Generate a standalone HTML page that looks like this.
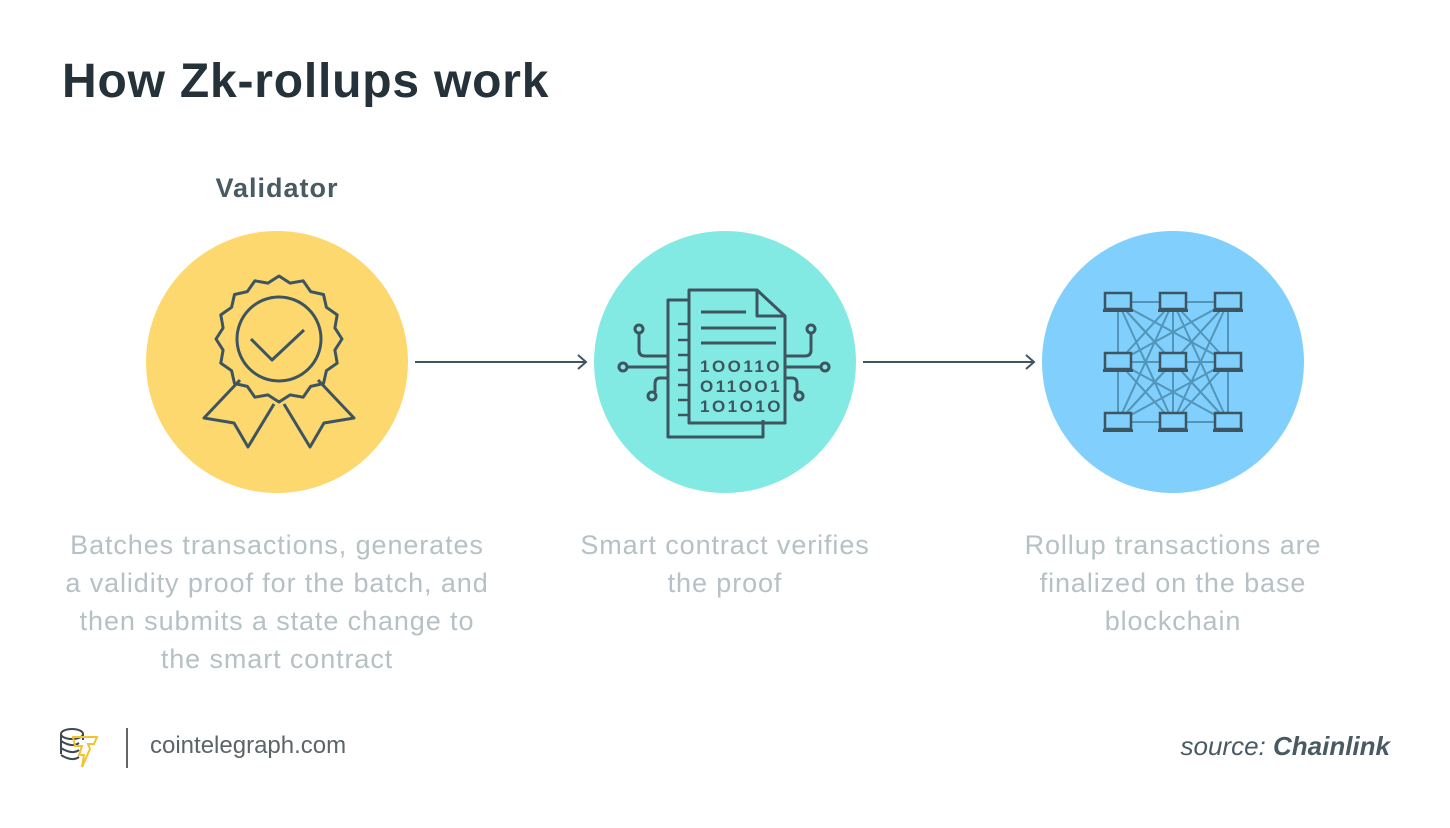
<!DOCTYPE html>
<html><head><meta charset="utf-8"><style>
body{margin:0;width:1450px;height:828px;background:#fff;font-family:"Liberation Sans",sans-serif;overflow:hidden;position:relative}
.t{position:absolute;white-space:nowrap}
.d{position:absolute;text-align:center;color:#b6c1c5;font-size:27px;letter-spacing:0.9px;line-height:38px;width:500px}
</style></head><body>
<div class="t" style="left:62px;top:54px;font-size:48px;letter-spacing:0.8px;font-weight:bold;color:#25323a">How Zk-rollups work</div>
<div class="t" style="left:0;width:554px;text-align:center;top:173px;font-size:27px;letter-spacing:1px;font-weight:bold;color:#4a5a63">Validator</div>
<svg width="1450" height="828" style="position:absolute;left:0;top:0">
<circle cx="277" cy="362" r="131" fill="#fdd86f"/>
<circle cx="725" cy="362" r="131" fill="#83eae3"/>
<circle cx="1173" cy="362" r="131" fill="#80cffc"/>
<g stroke="#3f555f" stroke-width="2" fill="none">
<line x1="415" y1="362" x2="585" y2="362"/><path d="M578 355 L586 362 L578 369"/>
<line x1="863" y1="362" x2="1033" y2="362"/><path d="M1026 355 L1034 362 L1026 369"/>
</g>
<g stroke="#3d5560" stroke-width="3" fill="none" stroke-linejoin="round">
<path id="scal" d=""/>
<circle cx="279" cy="339" r="42"/>
<path d="M251 339 L272 360 L304 330"/>
<path d="M240 380 L204 418 L234 423 L248 447 L274 404"/>
<path d="M318 380 L354 418 L324 423 L310 447 L284 404"/>
</g>
<g stroke="#3d5560" stroke-width="3" fill="none" stroke-linejoin="round">
<path d="M688 300 L668 300 L668 437 L763 437 L763 420"/>
<path d="M689 290 L757 290 L785 316 L785 423 L689 423 Z"/>
<path d="M757 290 L757 316 L785 316"/>
<line x1="701" y1="312" x2="746" y2="312"/>
<line x1="701" y1="328" x2="776" y2="328"/>
<line x1="701" y1="343" x2="776" y2="343"/>
<g stroke-width="2.5"><line x1="678" y1="324" x2="688" y2="324"/><line x1="678" y1="340" x2="688" y2="340"/><line x1="678" y1="355" x2="688" y2="355"/><line x1="678" y1="370" x2="688" y2="370"/><line x1="678" y1="385" x2="688" y2="385"/><line x1="678" y1="400" x2="688" y2="400"/><line x1="678" y1="415" x2="688" y2="415"/></g>
<path d="M639 333 L639 350 Q639 356 645 356 L668 356"/><circle cx="639" cy="329" r="4"/>
<line x1="627" y1="367" x2="668" y2="367"/><circle cx="623" cy="367" r="4"/>
<path d="M668 378 L660 378 Q655 378 655 384 L655 392"/><circle cx="652" cy="396" r="4"/>
<path d="M811 333 L811 350 Q811 356 805 356 L785 356"/><circle cx="811" cy="329" r="4"/>
<line x1="785" y1="367" x2="821" y2="367"/><circle cx="825" cy="367" r="4"/>
<path d="M785 378 L792 378 Q797 378 797 384 L797 392"/><circle cx="799" cy="396" r="4"/>
</g>
<g fill="#3d5560" font-family="Liberation Sans,sans-serif" font-size="17" font-weight="bold" letter-spacing="2.5">
<text x="700" y="372">1OO11O</text><text x="700" y="392">O11OO1</text><text x="700" y="412">1O1O1O</text>
</g>
<g id="net" stroke="#4d8fb3" stroke-width="2" fill="none" opacity="0.9"></g>
<g id="laps"></g>
</svg>
<div class="d" style="left:27px;top:526px">Batches transactions, generates<br>a validity proof for the batch, and<br>then submits a state change to<br>the smart contract</div>
<div class="d" style="left:475px;top:526px">Smart contract verifies<br>the proof</div>
<div class="d" style="left:923px;top:526px">Rollup transactions are<br>finalized on the base<br>blockchain</div>
<svg width="50" height="50" style="position:absolute;left:56px;top:724px">
<g stroke="#3d4a52" stroke-width="2" fill="none"><ellipse cx="16" cy="10" rx="11" ry="5"/><path d="M5 10v20M27 10v6"/><path d="M5 17q11 7 18 2M5 24q11 7 18 2M5 31q11 7 18 2"/></g>
<path d="M17 13h24l-3 7h-6l2 5-8 18 2-12h-5l3-9h-7z" stroke="#f2c230" stroke-width="2" fill="none"/>
</svg>
<div style="position:absolute;left:126px;top:728px;width:2px;height:40px;background:#666"></div>
<div class="t" style="left:150px;top:732px;font-size:24px;color:#5c6469">cointelegraph.com</div>
<div class="t" style="right:60px;top:731px;font-size:26px;color:#4a5a63;font-style:italic">source: <b>Chainlink</b></div>
<script>
let d="",cx=279,cy=339,n=16;
for(let i=0;i<=n*2;i++){let a=i*Math.PI/n-Math.PI/2,r=i%2?57:63;d+=(i?"L":"M")+(cx+r*Math.cos(a)).toFixed(1)+" "+(cy+r*Math.sin(a)).toFixed(1);}
document.getElementById("scal").setAttribute("d",d+"Z");
const xs=[1118,1173,1228],ys=[302,362,422],pts=[];
xs.forEach(x=>ys.forEach(y=>pts.push([x,y])));
let net="";
for(let i=0;i<9;i++)for(let j=i+1;j<9;j++){net+=`<line x1="${pts[i][0]}" y1="${pts[i][1]}" x2="${pts[j][0]}" y2="${pts[j][1]}"/>`;}
document.getElementById("net").innerHTML=net;
let l="";
pts.forEach(([x,y])=>{l+=`<rect x="${x-13}" y="${y-9}" width="26" height="16" fill="#80cffc" stroke="#3d5560" stroke-width="2.5"/><rect x="${x-15}" y="${y+7}" width="30" height="3" fill="#3d5560"/>`});
document.getElementById("laps").innerHTML=l;
</script>
</body></html>
